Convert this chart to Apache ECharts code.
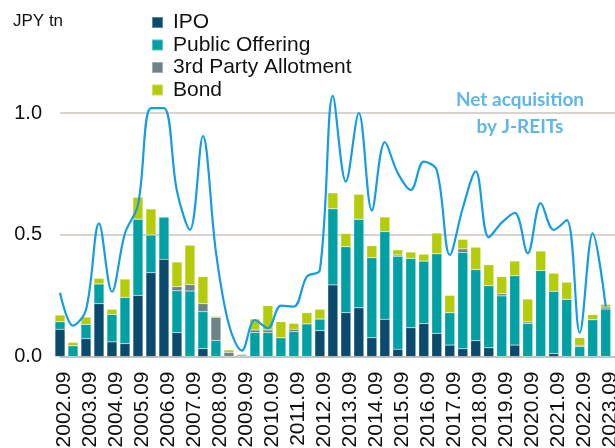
<!DOCTYPE html>
<html>
<head>
<meta charset="utf-8">
<script src="https://cdn.jsdelivr.net/npm/echarts@6/dist/echarts.min.js"></script>
<style>
  html, body { margin: 0; padding: 0; background: #fff; }
  #chart { width: 615px; height: 448px; }
</style>
</head>
<body>
<div id="chart"></div>
<script>
// ---------------------------------------------------------------------------
// data (JPY tn, half-yearly)
// ---------------------------------------------------------------------------
const periods = [
  "2002.09", "2003.03", "2003.09", "2004.03", "2004.09", "2005.03", "2005.09", "2006.03",
  "2006.09", "2007.03", "2007.09", "2008.03", "2008.09", "2009.03", "2009.09", "2010.03",
  "2010.09", "2011.03", "2011.09", "2012.03", "2012.09", "2013.03", "2013.09", "2014.03",
  "2014.09", "2015.03", "2015.09", "2016.03", "2016.09", "2017.03", "2017.09", "2018.03",
  "2018.09", "2019.03", "2019.09", "2020.03", "2020.09", "2021.03", "2021.09", "2022.03",
  "2022.09", "2023.03", "2023.09",
];

const ipo = [
  0.112, 0, 0.073, 0.217, 0.060, 0.053, 0.251, 0.344, 0.399, 0.098, 0, 0.032, 0, 0, 0,
  0, 0, 0, 0, 0, 0.106, 0.294, 0.180, 0.200, 0.077, 0.153, 0.030, 0.118, 0.135, 0.095,
  0.047, 0.032, 0.065, 0.036, 0, 0.047, 0, 0, 0.012, 0, 0, 0, 0,
];

const publicOffering = [
  0.031, 0.044, 0.059, 0.081, 0.113, 0.190, 0.313, 0.155, 0.174, 0.172, 0.269, 0.152, 0.066, 0, 0,
  0.098, 0.098, 0.077, 0.102, 0.134, 0.048, 0.313, 0.271, 0.364, 0.329, 0.360, 0.382, 0.285, 0.257, 0.327,
  0.133, 0.395, 0.292, 0.255, 0.249, 0.285, 0.135, 0.353, 0.256, 0.235, 0.040, 0.151, 0.195,
];

const thirdParty = [
  0, 0, 0, 0, 0, 0, 0, 0, 0, 0.017, 0.026, 0.033, 0.095, 0.017, 0.006,
  0.011, 0.011, 0, 0.010, 0, 0, 0, 0, 0, 0, 0, 0.005, 0, 0, 0,
  0, 0.015, 0, 0, 0.009, 0, 0.007, 0, 0, 0, 0.006, 0, 0.008,
];

const bond = [
  0.027, 0.014, 0.030, 0.023, 0.021, 0.075, 0.090, 0.107, 0, 0.101, 0.162, 0.111, 0.004, 0.010, 0.004,
  0.045, 0.100, 0.066, 0.024, 0.046, 0.040, 0.065, 0.054, 0.102, 0.049, 0.060, 0.021, 0.026, 0.028, 0.085,
  0.071, 0.039, 0.092, 0.086, 0.070, 0.060, 0.094, 0.080, 0.074, 0.070, 0.031, 0.021, 0.011,
];

const netAcquisition = [
  0.262, 0.127, 0.191, 0.547, 0.266, 0.506, 0.622, 1.02, 1.02, 0.68, 0.52, 0.905, 0.43, 0.13, 0.024,
  0.15, 0.116, 0.209, 0.205, 0.328, 0.355, 1.07, 0.718, 1.0, 0.60, 0.88, 0.753, 0.684, 0.80, 0.765,
  0.417, 0.61, 0.76, 0.49, 0.55, 0.59, 0.424, 0.63, 0.52, 0.56, 0.098, 0.506, 0.205,
];

const yTicks = [0, 0.5, 1.0];

// ---------------------------------------------------------------------------
// colours
// ---------------------------------------------------------------------------
const COLORS = {
  ipo: "#0a4a6c",
  po: "#00a0a3",
  third: "#6e8388",
  bond: "#b4cc0a",
  line: "#159de2",
  note: "#62b6e4",
};

const FONT = "'Liberation Sans', Arial, sans-serif";

function barSeries(name, data, color) {
  return {
    name,
    type: "bar",
    stack: "total",
    barWidth: 10,
    data,
    itemStyle: { color, borderColor: "rgba(255,255,255,0.35)", borderWidth: 0.5 },
  };
}

// the plot starts at the first period's centre (its bar is cut in half) and
// leaves a little room after the last one: one empty slot at the end
const axisCategories = periods.concat([""]);

const chart = echarts.init(document.getElementById("chart"), null, { renderer: "canvas" });

chart.setOption({
  animation: false,
  backgroundColor: "#fff",
  textStyle: { fontFamily: FONT },
  grid: {
    left: 60, right: -3.7, top: 64.3, bottom: 91.5,
    containLabel: false,
    outerBoundsMode: "none",
  },
  legend: {
    orient: "vertical",
    left: 146,
    top: 7,
    itemWidth: 11,
    itemHeight: 11,
    itemGap: 1.5,
    icon: "rect",
    data: ["IPO", "Public Offering", "3rd Party Allotment", "Bond"],
    textStyle: { fontSize: 21, color: "#111", fontFamily: FONT, lineHeight: 21, padding: [0, 0, 0, 5] },
  },
  xAxis: {
    type: "category",
    data: axisCategories,
    boundaryGap: false,
    axisLine: { show: true, lineStyle: { color: "#bdbdbd", width: 1.5 } },
    axisTick: { show: false },
    splitLine: { show: false },
    axisLabel: {
      interval: 1,
      rotate: 90,
      margin: 15,
      fontSize: 21,
      color: "#111",
      fontFamily: FONT,
      verticalAlign: "top",
      lineHeight: 8,
    },
  },
  yAxis: {
    type: "value",
    min: 0,
    max: 1.2,
    interval: 0.5,
    axisLine: { show: false },
    axisTick: { show: false },
    splitLine: { show: true, showMaxLine: false, lineStyle: { color: "#d8d3ce", width: 2 } },
    axisLabel: {
      margin: 18,
      fontSize: 20,
      color: "#111",
      fontFamily: FONT,
      showMaxLabel: false,
      formatter: (v) => (yTicks.includes(v) ? v.toFixed(1) : ""),
    },
  },
  graphic: [
    {
      type: "text",
      left: 13,
      top: 13,
      style: { text: "JPY tn", font: "17px " + FONT, fill: "#111" },
    },
    {
      type: "text",
      x: 520,
      y: 86,
      style: {
        text: "Net acquisition\nby J-REITs",
        font: "bold 19px Lato, 'Open Sans', sans-serif",
        fill: COLORS.note,
        align: "center",
        lineHeight: 27,
      },
    },
  ],
  series: [
    barSeries("IPO", ipo, COLORS.ipo),
    barSeries("Public Offering", publicOffering, COLORS.po),
    barSeries("3rd Party Allotment", thirdParty, COLORS.third),
    barSeries("Bond", bond, COLORS.bond),
    {
      name: "Net acquisition by J-REITs",
      type: "line",
      data: netAcquisition,
      smooth: 0.35,
      symbol: "none",
      z: 5,
      lineStyle: { color: COLORS.line, width: 2.2 },
    },
  ],
});
</script>
</body>
</html>
